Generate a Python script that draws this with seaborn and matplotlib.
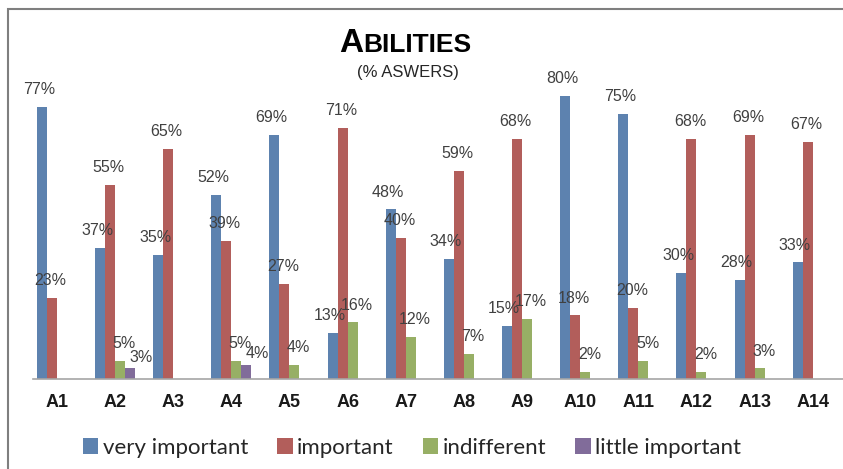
import numpy as np
import pandas as pd
import seaborn as sns
import matplotlib.pyplot as plt
from matplotlib.patches import Rectangle

# data (percent of answers)
abilities = ["A1", "A2", "A3", "A4", "A5", "A6", "A7", "A8", "A9", "A10", "A11", "A12", "A13", "A14"]
very_important = [77, 37, 35, 52, 69, 13, 48, 34, 15, 80, 75, 30, 28, 33]
important = [23, 55, 65, 39, 27, 71, 40, 59, 68, 18, 20, 68, 69, 67]
indifferent = [0, 5, 0, 5, 4, 16, 12, 7, 17, 2, 5, 2, 3, 0]
little_important = [0, 3, 0, 4, 0, 0, 0, 0, 0, 0, 0, 0, 0, 0]

series = ["very important", "important", "indifferent", "little important"]
colors = ["#4F81BD", "#C0504D", "#9BBB59", "#8064A2"]
# label nudges per series (points), roughly like the Excel auto layout
label_dx = [-2, -1, 3, 8]
label_dy = [12.5, 12.5, 12.5, 8]

df = pd.DataFrame({
    "ability": abilities * 4,
    "answer": np.repeat(series, len(abilities)),
    "pct": very_important + important + indifferent + little_important,
})

sns.set_style("white")
plt.rcParams["font.family"] = ["Liberation Sans", "DejaVu Sans"]

fig = plt.figure(figsize=(8.43, 4.69), dpi=100)
ax = fig.add_axes([33 / 843, 90 / 469, 1 - 33 / 843, 318 / 469])

sns.barplot(data=df, x="ability", y="pct", hue="answer", hue_order=series,
            palette=colors, width=0.69, linewidth=0, ax=ax, legend=True)

ax.set_ylim(0, 90)
ax.set_xlim(-0.41, 13.52)
ax.set_xlabel("")
ax.set_ylabel("")
ax.set_yticks([])
for s in ["left", "right", "top"]:
    ax.spines[s].set_visible(False)
ax.spines["bottom"].set_color("#A6A6A6")
ax.spines["bottom"].set_linewidth(1.2)
ax.tick_params(axis="x", length=0, pad=11)
for t in ax.get_xticklabels():
    t.set_fontweight("bold")
    t.set_fontsize(13)
    t.set_color("#1a1a1a")

# value labels above bars (zeros are not shown)
for k, cont in enumerate(ax.containers):
    for p in cont:
        h = p.get_height()
        if h <= 0:
            continue
        ax.annotate(f"{h:.0f}%", (p.get_x() + p.get_width() / 2, h),
                    xytext=(label_dx[k], label_dy[k]), textcoords="offset points",
                    ha="center", va="center", fontsize=11.5, color="#404040")

# legend below the plot
handles, labels = ax.get_legend_handles_labels()
ax.get_legend().remove()
fig.legend(handles, labels, loc="center", bbox_to_anchor=(412 / 843, 1 - 448 / 469),
           ncol=4, frameon=False, handlelength=0.7, handleheight=0.7,
           handletextpad=0.2, columnspacing=1.3,
           prop={"family": ["Lato", "DejaVu Sans"], "size": 16})

# title in small caps style
fig.text(363 / 843, 1 - 52 / 469, "A", fontsize=24, fontweight="bold",
         ha="right", va="baseline", color="black")
fig.text(363 / 843, 1 - 52 / 469, "BILITIES", fontsize=19, fontweight="bold",
         ha="left", va="baseline", color="black")
fig.text(408 / 843, 1 - 72 / 469, "(% ASWERS)", fontsize=12,
         ha="center", va="center", color="#262626")

# chart frame
fig.patches.append(Rectangle((8 / 843, -0.2), 1.2, 1.2 - 9 / 469,
                             transform=fig.transFigure, fill=False,
                             edgecolor="#7F7F7F", linewidth=1.5))

fig.savefig("out.png", dpi=100)
